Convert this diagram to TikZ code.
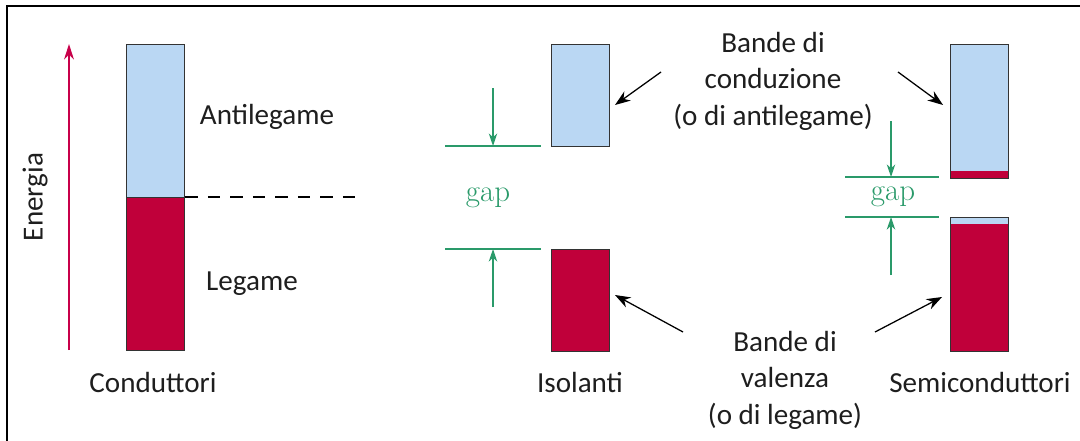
\documentclass[tikz,border=0pt]{standalone}
\usepackage{fontspec}
\setmainfont{Carlito}
\newfontfamily\gapfont{Latin Modern Roman}
\usetikzlibrary{arrows.meta,positioning,calc}
\definecolor{BandBlue}{HTML}{BAD7F3}
\definecolor{BandRed}{HTML}{C0003A}
\definecolor{GapGreen}{HTML}{2A9A6A}
\definecolor{EnergyRed}{HTML}{C8004A}
\definecolor{TextGrey}{HTML}{1E1E1E}

\begin{document}
\begin{tikzpicture}[x=0.025cm,y=-0.025cm]
    \tikzset{band/.style={draw=black!80,line width=0.9pt,minimum width=1.45cm,inner sep=0pt,anchor=north west},
      lbl/.style={font=\fontsize{20.7}{26}\selectfont,text=TextGrey,align=center,inner sep=0pt},
      gaplbl/.style={font=\gapfont\fontsize{22}{24}\selectfont,text=GapGreen,inner sep=0pt},
      gapline/.style={draw=GapGreen,line width=0.9pt},
      gaparrow/.style={gapline,-{Stealth[length=9pt,width=6pt]}},
      pointer/.style={draw=black,line width=0.9pt,-{Stealth[length=11pt,width=8pt]}}}
    \useasboundingbox (0,0) rectangle (1080,441);
    \draw[line width=1.2pt] (1080,6) -- (7,6) -- (7,441);
    % conduttori
    \node[band,fill=BandBlue,minimum height=3.825cm] (cup) at (126,44) {};
    \node[band,fill=BandRed,minimum height=3.825cm] (clow) at (126,197) {};
    \coordinate (dashend) at (360,197);
    \draw[dashed,line width=0.9pt,dash pattern=on 9pt off 7pt] (clow.north east) -- (dashend);
    \coordinate (enbot) at (69,350);
    \coordinate (entop) at (69,44);
    \draw[EnergyRed,line width=1.3pt,-{Stealth[length=11pt,width=7pt]}] (enbot) -- (entop);
    \node[lbl,rotate=90] (energia) at (35,197) {Energia};
    \node[lbl] (anti) at (267,117) {Antilegame};
    \node[lbl] (leg) at (252,284) {Legame};
    \node[lbl] (cond) at (153,382) {Conduttori};
    % isolanti
    \node[band,fill=BandBlue,minimum height=2.55cm] (iup) at (551,44) {};
    \node[band,fill=BandRed,minimum height=2.55cm] (ilow) at (551,249) {};
    \node[lbl] (iso) at (580,382) {Isolanti};
    \coordinate (ia) at (445,146); \coordinate (ib) at (541,146);
    \coordinate (ic) at (445,249); \coordinate (id) at (541,249);
    \coordinate (itop) at (493,88); \coordinate (ibot) at (493,307);
    \draw[gapline] (ia) -- (ib);
    \draw[gapline] (ic) -- (id);
    \draw[gaparrow] (itop) -- (itop |- ia);
    \draw[gaparrow] (ibot) -- (ibot |- ic);
    \node[gaplbl] (igap) at (488,198) {gap};
    % semiconduttori
    \node[band,fill=BandBlue,minimum height=3.35cm,
      path picture={\fill[BandRed] (path picture bounding box.south west) rectangle ([yshift=0.18cm]path picture bounding box.south east);}] (sup) at (950,44) {};
    \node[band,fill=BandRed,minimum height=3.35cm,
      path picture={\fill[BandBlue] (path picture bounding box.north west) rectangle ([yshift=-0.16cm]path picture bounding box.north east);}] (slow) at (950,217) {};
    \node[lbl] (semi) at (980,382) {Semiconduttori};
    \coordinate (sa) at (845,177); \coordinate (sb) at (939,177);
    \coordinate (sc) at (845,217); \coordinate (sd) at (939,217);
    \coordinate (stop) at (891,121); \coordinate (sbot) at (891,275);
    \draw[gapline] (sa) -- (sb);
    \draw[gapline] (sc) -- (sd);
    \draw[gaparrow] (stop) -- (stop |- sa);
    \draw[gaparrow] (sbot) -- (sbot |- sc);
    \node[gaplbl] (sgap) at (893,197) {gap};
    % bande
    \node[lbl] (condtxt) at (773,81) {Bande di\\conduzione\\(o di antilegame)};
    \node[lbl] (valtxt) at (785,380) {Bande di\\valenza\\(o di legame)};
    \coordinate (p1) at (661,72); \coordinate (p2) at (898,72);
    \coordinate (p3) at (683,332); \coordinate (p4) at (875,332);
    \draw[pointer] (p1) -- (615,105);
    \draw[pointer] (p2) -- (943,105);
    \draw[pointer] (p3) -- (615,295);
    \draw[pointer] (p4) -- (942,297);
  \end{tikzpicture}
\end{document}
